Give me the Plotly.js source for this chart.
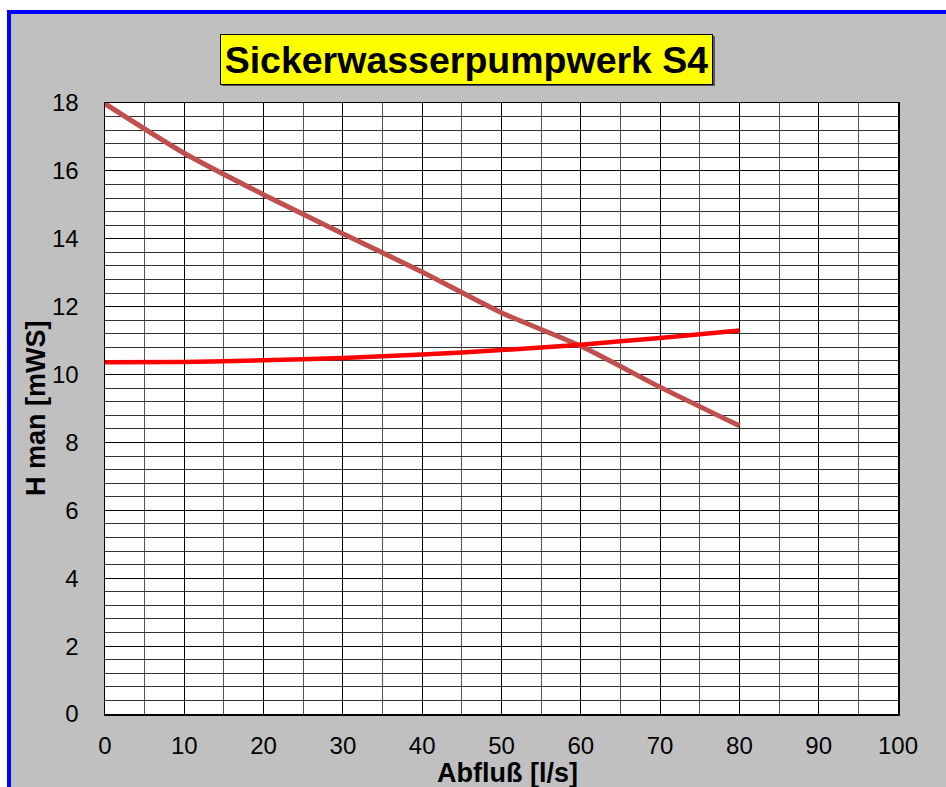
<!DOCTYPE html>
<html>
<head>
<meta charset="utf-8">
<script src="https://cdn.plot.ly/plotly-3.0.1.min.js"></script>
<style>
  html, body { margin: 0; padding: 0; background: #ffffff; width: 946px; height: 787px; overflow: hidden; }
  #frame { position: absolute; left: 7px; top: 10px; width: 950px; height: 800px;
           border-left: 4px solid #0000ff; border-top: 4px solid #0000ff; background: #c0c0c0; }
  #chart { position: absolute; left: 0; top: 0; width: 935px; height: 773px; }
</style>
</head>
<body>
<div id="frame"><div id="chart"></div></div>
<script>
// Data
const flow = [0, 10, 20, 30, 40, 50, 60, 70, 80];               // Abfluß [l/s]
const pumpHead = [17.98, 16.52, 15.3, 14.15, 13.02, 11.82, 10.84, 9.63, 8.49]; // pump curve H [mWS]
const systemHead = [10.36, 10.37, 10.42, 10.49, 10.59, 10.72, 10.88, 11.08, 11.3]; // system curve H [mWS]
const xTicks = [0, 10, 20, 30, 40, 50, 60, 70, 80, 90, 100];
const yTicks = [0, 2, 4, 6, 8, 10, 12, 14, 16, 18];
const chartTitle = 'Sickerwasserpumpwerk S4';
const xTitle = 'Abfluß [l/s]';
const yTitle = 'H man [mWS]';

const font = 'Liberation Sans, Arial, sans-serif';

const traces = [
  { x: flow, y: pumpHead, mode: 'lines', line: { color: '#C0504D', width: 5, shape: 'spline', smoothing: 0.6 }, hoverinfo: 'x+y' },
  { x: flow, y: systemHead, mode: 'lines', line: { color: '#FF0000', width: 4.5, shape: 'spline', smoothing: 0.6 }, hoverinfo: 'x+y' }
];

const layout = {
  width: 935, height: 773,
  margin: { l: 94, r: 48, t: 89, b: 73 },
  paper_bgcolor: '#c0c0c0',
  plot_bgcolor: '#ffffff',
  showlegend: false,
  font: { family: font, color: '#000' },
  xaxis: {
    range: [0, 100], tickvals: xTicks, ticktext: xTicks.map(String),
    ticks: '', ticklabelstandoff: 10,
    tickfont: { size: 24, family: font, color: '#000' },
    showgrid: true, gridcolor: '#000', gridwidth: 1,
    minor: { dtick: 5, showgrid: true, gridcolor: '#555', gridwidth: 1 },
    showline: true, linecolor: '#000', linewidth: 1.5, mirror: true,
    zeroline: false, fixedrange: true
  },
  yaxis: {
    range: [0, 18], tickvals: yTicks, ticktext: yTicks.map(String),
    ticks: '', ticklabelstandoff: 20,
    tickfont: { size: 24, family: font, color: '#000' },
    showgrid: true, gridcolor: '#000', gridwidth: 1,
    minor: { dtick: 0.4, tick0: 0, showgrid: true, gridcolor: '#333', gridwidth: 1 },
    showline: true, linecolor: '#000', linewidth: 1.5, mirror: true,
    zeroline: false, fixedrange: true
  },
  shapes: [
    { type: 'rect', xref: 'paper', yref: 'paper', x0: 0.1475, x1: 0.7692, y0: 1.0278, y1: 1.1097,
      fillcolor: '#555555', line: { width: 0 }, layer: 'above' }
  ],
  annotations: [
    { text: '<b>' + chartTitle + '</b>', xref: 'paper', yref: 'paper', x: 0.4559, y: 1.072,
      xanchor: 'center', yanchor: 'middle', showarrow: false,
      font: { size: 37.5, family: font, color: '#000' },
      bgcolor: '#ffff00', bordercolor: '#000', borderwidth: 1, borderpad: 0, width: 491, height: 49 },
    { text: '<b>' + xTitle + '</b>', xref: 'paper', yref: 'paper', x: 0.508, y: -0.097,
      xanchor: 'center', yanchor: 'middle', showarrow: false,
      font: { size: 27, family: font, color: '#000' } },
    { text: '<b>' + yTitle + '</b>', xref: 'paper', yref: 'paper', x: -0.087, y: 0.5008,
      xanchor: 'center', yanchor: 'middle', showarrow: false, textangle: -90,
      font: { size: 27, family: font, color: '#000' } }
  ]
};

Plotly.newPlot('chart', traces, layout, { displayModeBar: false, staticPlot: true });
</script>
</body>
</html>
